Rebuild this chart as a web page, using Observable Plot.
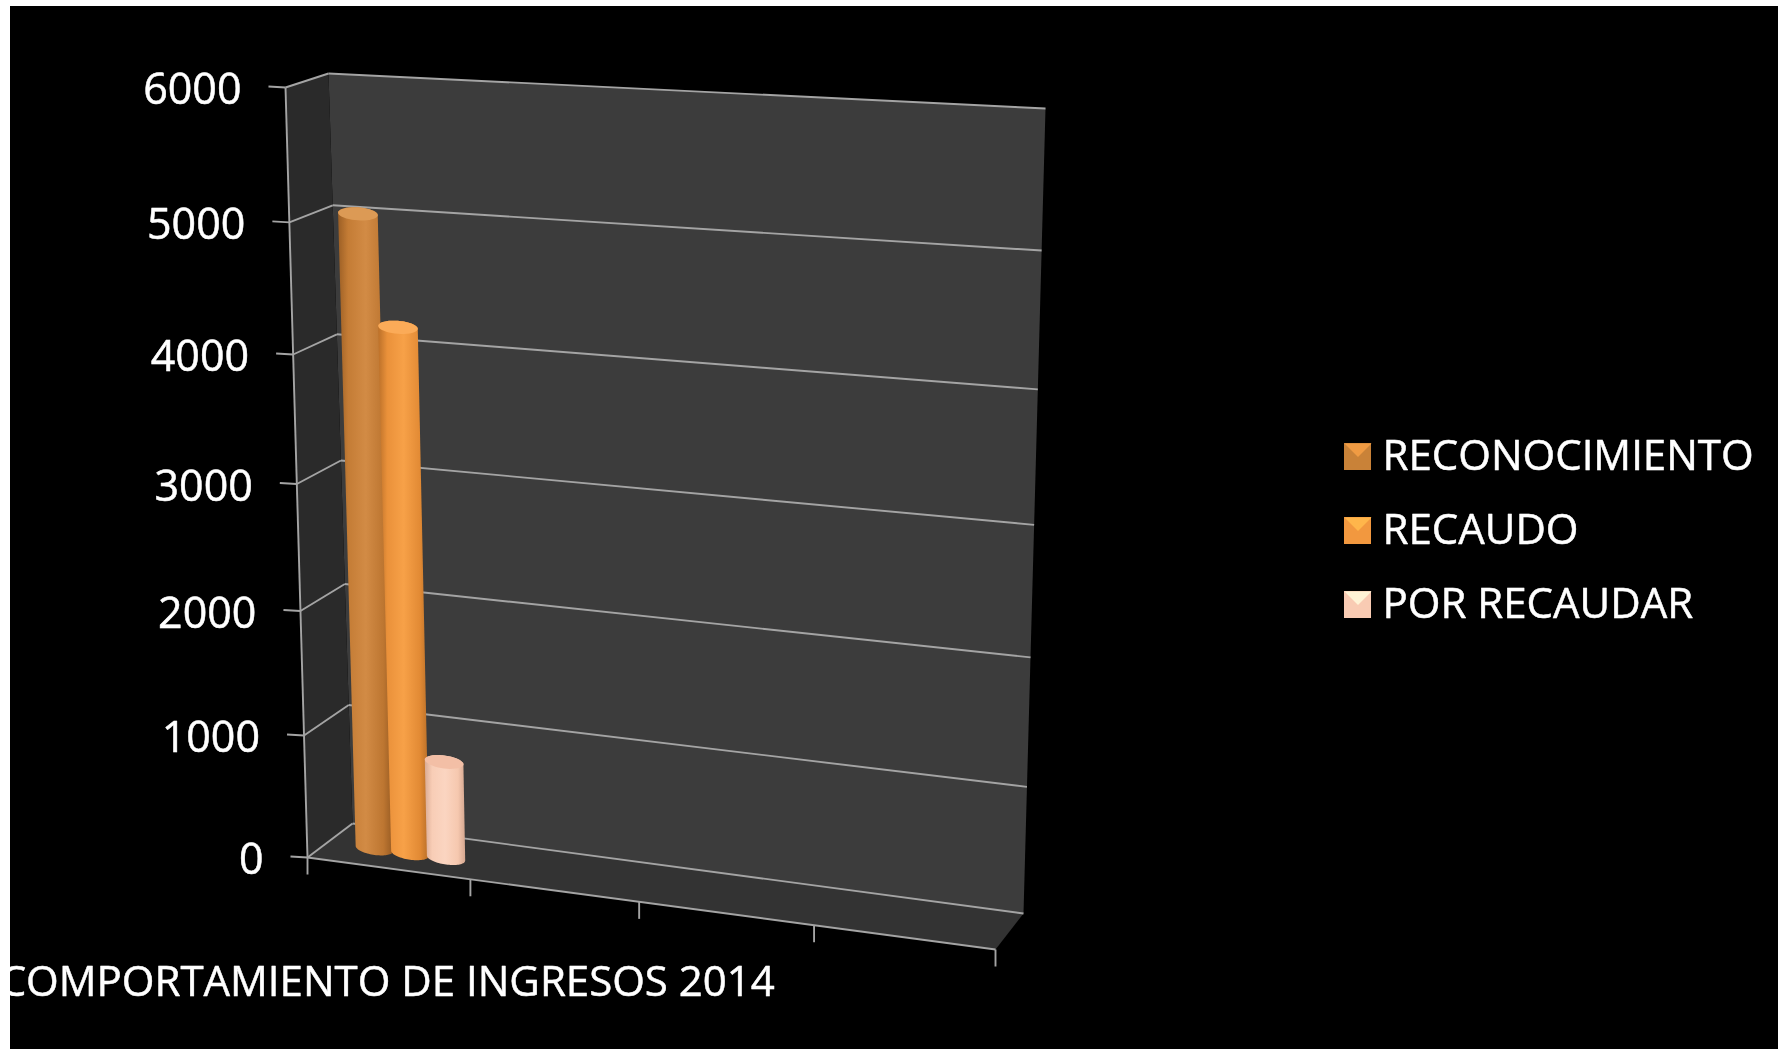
<!DOCTYPE html>
<html><head><meta charset="utf-8">
<script src="https://cdn.jsdelivr.net/npm/d3@7"></script>
<script src="https://cdn.jsdelivr.net/npm/@observablehq/plot@0.6"></script>
<style>html,body{margin:0;padding:0;background:#fff;overflow:hidden}svg{display:block;filter:blur(.6px)}</style>
</head><body><div id="chart"></div>
<script>
// ---- data
const categories = ["COMPORTAMIENTO DE INGRESOS 2014", "", "", ""];
const series = ["RECONOCIMIENTO", "RECAUDO", "POR RECAUDAR"];
const values = [5030, 4190, 790];
const yTicks = [0, 1000, 2000, 3000, 4000, 5000, 6000];
const yMax = 6000;
const seriesColors = ["#c98238", "#f2983f", "#f9cbb3"];

// ---- perspective frame of the 3D box (back and front planes)
const backPlane = [[352,823],[1023,913],[1045,108],[328,73]];
const frontPlane = [[307,857],[995,949],[1017,124],[285,87]];
function homography([p0,p1,p2,p3]) {
  const [x0,y0]=p0,[x1,y1]=p1,[x2,y2]=p2,[x3,y3]=p3;
  const dx1=x1-x2,dx2=x3-x2,sx=x0-x1+x2-x3,dy1=y1-y2,dy2=y3-y2,sy=y0-y1+y2-y3;
  const d=dx1*dy2-dx2*dy1;
  const g=(sx*dy2-dx2*sy)/d,h=(dx1*sy-sx*dy1)/d;
  const a=x1-x0+g*x1,b=x3-x0+h*x3,c=x0,e=y1-y0+g*y1,f=y3-y0+h*y3,k=y0;
  return (u,v)=>{const q=g*u+h*v+1;return [(a*u+b*v+c)/q,(e*u+f*v+k)/q];};
}
const hb=homography(backPlane),hf=homography(frontPlane);
// u: along the categories 0..1, val: value, w: depth 0 back..1 front
function P(u,val,w){const a=hb(u,val/yMax),b=hf(u,val/yMax);return [a[0]+(b[0]-a[0])*w,a[1]+(b[1]-a[1])*w];}
const link=(a,b,o={})=>({x1:a[0],y1:a[1],x2:b[0],y2:b[1],...o});

const sideWall=[P(0,0,1),P(0,0,0),P(0,yMax,0),P(0,yMax,1)];
const backWall=[P(0,0,0),P(1,0,0),P(1,yMax,0),P(0,yMax,0)];
const floor=[P(0,0,1),P(1,0,1),P(1,0,0),P(0,0,0)];

const gridLines=yTicks.flatMap(t=>[link(P(0,t,1),P(0,t,0)),link(P(0,t,0),P(1,t,0))]);
const axisLines=[link(P(0,0,1),P(0,yMax,1)),link(P(0,0,1),P(1,0,1))];
const tickLen=17;
const yTickLines=yTicks.map(t=>{const p=P(0,t,1);return link([p[0]-tickLen,p[1]-1],p);});
const xTickLines=d3.range(categories.length+1).map(i=>{const p=P(i/categories.length,0,1);return link(p,[p[0],p[1]+tickLen]);});
const yLabels=yTicks.map(t=>{const p=P(0,t,1);return {x:p[0]-44,y:p[1]+3,text:String(t)};});
const catLabel=categories.map((c,i)=>({x:P((i+.5)/categories.length,0,1)[0]-1,y:982,text:c})).filter(d=>d.text);

// cylinders
const uCenter=0.129, uStep=0.0555, uRadius=0.0295, depth=0.55, ry=6.5, N=40;
function ellipseAt(uc,val){
  const L=P(uc-uRadius,val,depth),R=P(uc+uRadius,val,depth);
  return t=>[(L[0]+R[0])/2+(R[0]-L[0])/2*Math.cos(t),(L[1]+R[1])/2+(R[1]-L[1])/2*Math.cos(t)+ry*Math.sin(t)];
}
const bodies=[],caps=[];
series.forEach((s,i)=>{
  const uc=uCenter+(i-1)*uStep;
  const top=ellipseAt(uc,values[i]),bot=ellipseAt(uc,0);
  d3.range(N+1).forEach(k=>{const p=top(Math.PI+Math.PI*k/N);bodies.push({s:i,x:p[0],y:p[1]});});
  d3.range(N+1).forEach(k=>{const p=bot(Math.PI*k/N);bodies.push({s:i,x:p[0],y:p[1]});});
  d3.range(N+1).forEach(k=>{const p=top(2*Math.PI*k/N);caps.push({s:i,x:p[0],y:p[1]});});
});

// legend
const legendX=1344,legendSize=27,legendYs=[443,517,591],legendTextX=1382;
const swatchRects=series.map((s,i)=>({s:i,x1:legendX,x2:legendX+legendSize,y1:legendYs[i],y2:legendYs[i]+legendSize}));
const swatchTops=series.flatMap((s,i)=>[[legendX,legendYs[i]],[legendX+legendSize,legendYs[i]],[legendX+legendSize/2,legendYs[i]+legendSize/2]].map(p=>({s:i,x:p[0],y:p[1]})));
const legendTexts=series.map((s,i)=>({x:legendTextX,y:legendYs[i]+legendSize/2,text:s}));
const poly=(pts,opts)=>Plot.line(pts,{x:d=>d[0],y:d=>d[1],stroke:"none",...opts});

const W=1780,H=1049;
const gradStops=[["#9c5f25","#c47c35","#d28b45","#bd7631","#965a22"],["#bb7029","#ea913a","#f7a148","#e28a34","#b56c27"],["#d9ab94","#f8cdb6","#fbd5c1","#f6c8af","#d4a68f"]];
const capColors=["#dc9a55","#fbab58","#f3bfa6"];
const defs=()=>{
  const svgNS="http://www.w3.org/2000/svg";
  const d=document.createElementNS(svgNS,"defs");
  gradStops.forEach((st,i)=>{
    const g=document.createElementNS(svgNS,"linearGradient");
    g.setAttribute("id","cyl"+i);
    st.forEach((c,j)=>{
      const o=document.createElementNS(svgNS,"stop");
      o.setAttribute("offset",[0,.18,.5,.82,1][j]);
      o.setAttribute("stop-color",c);
      g.appendChild(o);
    });
    d.appendChild(g);
  });
  return d;
};
const font="'Open Sans',sans-serif";
const lineColor="#a4a4a4", lineWidth=1.9;
const lines=(data)=>Plot.link(data,{x1:"x1",y1:"y1",x2:"x2",y2:"y2",stroke:lineColor,strokeWidth:lineWidth});
const chart=Plot.plot({
  width:W,height:H,margin:0,
  style:{background:"#000",fontFamily:font},
  x:{type:"linear",domain:[0,W],range:[0,W],axis:null},
  y:{type:"linear",domain:[0,H],range:[0,H],axis:null},
  marks:[
    defs,
    poly(backWall,{fill:"#3c3c3c"}),
    poly(sideWall,{fill:"#2a2a2a"}),
    poly(floor,{fill:"#333333"}),
    lines(gridLines),
    lines(axisLines),
    lines(yTickLines),
    lines(xTickLines),
    ...series.map((s,i)=>Plot.line(bodies.filter(d=>d.s===i),{x:"x",y:"y",stroke:"none",fill:`url(#cyl${i})`})),
    ...series.map((s,i)=>Plot.line(caps.filter(d=>d.s===i),{x:"x",y:"y",stroke:"none",fill:capColors[i]})),
    Plot.text(yLabels,{x:"x",y:"y",text:"text",fill:"#fff",stroke:"#fff",strokeWidth:.5,fontSize:43,textAnchor:"end",lineAnchor:"middle"}),
    Plot.text(catLabel,{x:"x",y:"y",text:"text",fill:"#fff",stroke:"#fff",strokeWidth:.5,fontSize:42,textAnchor:"middle",lineAnchor:"middle"}),
    Plot.rect(swatchRects,{x1:"x1",x2:"x2",y1:"y1",y2:"y2",fill:d=>seriesColors[d.s]}),
    ...series.map((s,i)=>poly(swatchTops.filter(d=>d.s===i).map(d=>[d.x,d.y]),{fill:d3.color(seriesColors[i]).brighter(.5).formatHex()})),
    Plot.text(legendTexts,{x:"x",y:"y",text:"text",fill:"#fff",stroke:"#fff",strokeWidth:.5,fontSize:42,textAnchor:"start",lineAnchor:"middle"}),
    // white picture border
    Plot.rect([{x1:0,x2:W,y1:0,y2:6},{x1:0,x2:10,y1:0,y2:H},{x1:W-2,x2:W,y1:0,y2:H}],{x1:"x1",x2:"x2",y1:"y1",y2:"y2",fill:"#fff"})
  ]
});
document.getElementById("chart").appendChild(chart);
</script>
</body></html>
